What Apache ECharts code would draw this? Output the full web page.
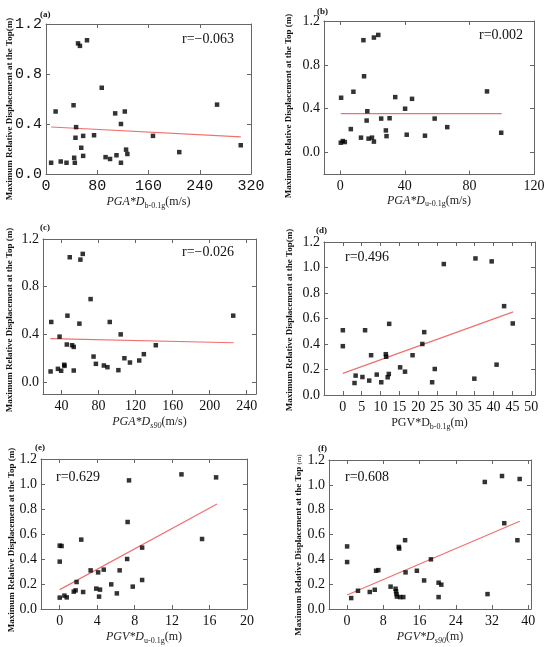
<!DOCTYPE html>
<html><head><meta charset="utf-8">
<script src="https://cdn.jsdelivr.net/npm/echarts@6/dist/echarts.min.js"></script>
<style>html,body{margin:0;padding:0;background:#fff}#c{width:550px;height:647px}</style>
</head><body><div id="c"></div>
<script>
// ---------- data ----------
const aX = [8,15,23,32,43,44,45,46,47,50,53,55,58,58,64,75,87,93,100,108,110,117,117,123,125,127,167,208,267,304];
const aY = [0.09,0.50,0.10,0.09,0.55,0.13,0.09,0.29,0.375,1.045,1.025,0.21,0.305,0.145,1.07,0.31,0.69,0.135,0.12,0.485,0.15,0.09,0.40,0.50,0.195,0.16,0.305,0.175,0.555,0.23];
const aFit = [[8,0.376],[304,0.297]];

const bX = [0.4,0.6,1.6,2.9,6.6,8.2,12.9,14.4,14.8,16.4,16.8,17.6,19.7,20.9,20.9,23.6,25.4,28.3,28.7,30.6,34.1,40.2,41.2,44.5,52.5,58.5,66.3,90.9,99.7];
const bY = [0.09,0.50,0.105,0.096,0.214,0.555,0.136,1.025,0.696,0.292,0.377,0.127,0.136,0.10,1.049,1.073,0.31,0.202,0.15,0.313,0.506,0.40,0.163,0.49,0.154,0.31,0.232,0.558,0.181];
const bFit = [[0.4,0.356],[100,0.356]];

const cX = [28.2,28.9,36.1,37.9,39.6,42.9,43.2,45.7,46.4,48.9,51.4,53.2,53.2,59.3,60.4,62.9,71.4,74.6,77.1,85.7,89.6,92.1,101.4,103.9,107.9,113.9,123.9,128.9,141.8,225.4];
const cY = [0.089,0.504,0.111,0.381,0.095,0.145,0.136,0.315,0.557,1.047,0.309,0.295,0.097,0.49,1.027,1.075,0.696,0.214,0.153,0.139,0.125,0.504,0.10,0.40,0.20,0.164,0.181,0.234,0.309,0.557];
const cFit = [[28,0.365],[226,0.33]];

const dX = [0,0,3.1,3.4,5.2,5.9,7.0,7.5,9.0,10.2,11.4,11.5,11.9,12.2,12.3,15.2,16.5,18.5,21.1,21.6,23.7,24.4,26.8,34.9,35.2,39.5,40.8,42.8,45.1];
const dY = [0.508,0.383,0.094,0.152,0.141,0.508,0.113,0.312,0.16,0.10,0.32,0.30,0.139,0.165,0.558,0.217,0.183,0.312,0.40,0.493,0.10,0.204,1.027,0.128,1.071,1.048,0.238,0.697,0.561];
const dFit = [[0,0.17],[45.2,0.652]];

const eX = [0,0,0,0.2,0.5,0.75,1.5,1.7,1.8,2.3,2.5,3.3,3.9,4.1,4.2,4.3,4.7,5.5,6.1,6.4,7.2,7.25,7.4,7.8,8.8,8.8,13.0,15.2,16.7];
const eY = [0.091,0.379,0.507,0.504,0.107,0.093,0.139,0.149,0.216,0.555,0.136,0.309,0.163,0.293,0.099,0.155,0.315,0.197,0.125,0.309,0.40,0.696,1.029,0.179,0.232,0.491,1.077,0.56,1.053];
const eFit = [[0,0.155],[16.8,0.84]];

const fX = [0,0,0.9,2.4,5.0,6.1,6.4,6.9,9.6,10.7,10.8,10.9,11.0,11.4,11.5,11.7,12.4,12.8,12.9,15.4,17.0,18.5,20.2,20.2,20.8,30.4,31.0,34.2,34.7,37.6,38.1];
const fY = [0.504,0.378,0.088,0.147,0.137,0.155,0.308,0.313,0.18,0.163,0.142,0.12,0.10,0.50,0.487,0.096,0.096,0.554,0.295,0.308,0.23,0.40,0.212,0.096,0.196,1.023,0.12,1.071,0.691,0.554,1.047];
const fFit = [[0,0.113],[38.1,0.707]];

// tick labels
const aXTicks = [0,80,160,240,320];
const bXTicks = [0,40,80,120];
const cXTicks = [40,80,120,160,200,240];
const dXTicks = [0,5,10,15,20,25,30,35,40,45,50];
const eXTicks = [0,4,8,12,16,20];
const fXTicks = [0,8,16,24,32,40];
const yTicks04 = [0,0.4,0.8,1.2];
const yTicks02 = [0,0.2,0.4,0.6,0.8,1.0,1.2];

const rTexts = ['r=\u22120.063','r=0.002','r=\u22120.026','r=0.496','r=0.629','r=0.608'];
const panelLetters = ['(a)','(b)','(c)','(d)','(e)','(f)'];

// ---------- layout ----------
const SERIF = '"Liberation Serif","Times New Roman",serif';
const panels = [
  {x:aX,y:aY,fit:aFit,xt:aXTicks,yt:yTicks04,xmin:0,xmax:320,ymin:0,ymax:1.2,
   grid:{left:46,top:24,width:205,height:150},
   name:'{i|PGA*D}{s|b-0.1g}{n|(m/s)}', nameGap:20, mono:true,
   yName:{x:10,y:109,text:'Maximum Relative Displacement at the Top(m)'},
   letter:{x:40,y:15}, r:{x:182,y:39}},
  {x:bX,y:bY,fit:bFit,xt:bXTicks,yt:yTicks04,xmin:-10,xmax:120,ymin:-0.2,ymax:1.2,
   grid:{left:324,top:21,width:210,height:153.5},
   name:'{i|PGA*D}{s|u-0.1g}{n|(m/s)}', nameGap:12,
   yName:{x:289,y:106,text:'Maximum Relative Displacement at the Top (m)'},
   letter:{x:317,y:12}, r:{x:479,y:35}},
  {x:cX,y:cY,fit:cFit,xt:cXTicks,yt:yTicks04,xmin:20,xmax:250,ymin:-0.1,ymax:1.2,
   grid:{left:43,top:239,width:213,height:155},
   name:'{i|PGA*D}{si|s90}{n|(m/s)}', nameGap:20,
   yName:{x:10,y:320,text:'Maximum Relative Displacement at the Top (m)'},
   letter:{x:40,y:228}, r:{x:182,y:252}},
  {x:dX,y:dY,fit:dFit,xt:dXTicks,yt:yTicks02,xmin:-5,xmax:51,ymin:0,ymax:1.2,
   grid:{left:324,top:242,width:211,height:153},
   name:'{n|PGV*D}{s|b-0.1g}{n|(m)}', nameGap:20,
   yName:{x:290,y:320,text:'Maximum Relative Displacement at the Top(m)'},
   letter:{x:316,y:231}, r:{x:345,y:257}},
  {x:eX,y:eY,fit:eFit,xt:eXTicks,yt:yTicks02,xmin:-2,xmax:20,ymin:0,ymax:1.2,
   grid:{left:41,top:459,width:206,height:150},
   name:'{i|PGV*D}{s|u-0.1g}{n|(m)}', nameGap:20,
   yName:{x:12,y:540,text:'Maximum Relative Displacement at the Top (m)'},
   letter:{x:35,y:448}, r:{x:56,y:477}},
  {x:fX,y:fY,fit:fFit,xt:fXTicks,yt:yTicks02,xmin:-4,xmax:40.6,ymin:0,ymax:1.2,
   grid:{left:329,top:460,width:202,height:149},
   name:'{i|PGV*D}{si|s90}{n|(m)}', nameGap:20,
   yName:{x:299,y:545,text:'Maximum Relative Displacement at the Top {m|(m)}'},
   letter:{x:318,y:449}, r:{x:345,y:477}}
];

const AX = '#666';
const rich = {
  i:{fontFamily:SERIF,fontStyle:'italic',fontSize:12,lineHeight:16,color:'#222'},
  n:{fontFamily:SERIF,fontSize:12,lineHeight:16,color:'#222'},
  s:{fontFamily:SERIF,fontSize:8,lineHeight:9,verticalAlign:'bottom',color:'#222'},
  si:{fontFamily:SERIF,fontStyle:'italic',fontSize:8,lineHeight:9,verticalAlign:'bottom',color:'#222'}
};

const grid=[], xAxis=[], yAxis=[], series=[], graphic=[];
panels.forEach((p,k)=>{
  grid.push(Object.assign({containLabel:false}, p.grid));
  const lblFont = p.mono ? {fontFamily:'"Liberation Mono",monospace',fontSize:15} : {fontFamily:SERIF,fontSize:14};
  xAxis.push({type:'value',gridIndex:k,min:p.xmin,max:p.xmax,position:'bottom',
    axisLine:{onZero:false,lineStyle:{color:AX,width:1}},
    axisTick:{inside:true,length:4,customValues:p.xt,lineStyle:{color:AX}},
    axisLabel:{customValues:p.xt,margin:5,color:'#111',...lblFont,formatter:v=>String(Math.round(v))},
    splitLine:{show:false},
    name:p.name,nameLocation:'middle',nameGap:p.nameGap,nameTextStyle:{rich:rich}});
  xAxis.push({type:'value',gridIndex:k,min:p.xmin,max:p.xmax,position:'top',
    axisLine:{onZero:false,lineStyle:{color:AX,width:1}},
    axisTick:{inside:true,length:4,customValues:p.xt,lineStyle:{color:AX}},
    axisLabel:{show:false},splitLine:{show:false}});
  yAxis.push({type:'value',gridIndex:k,min:p.ymin,max:p.ymax,position:'left',
    axisLine:{onZero:false,lineStyle:{color:AX,width:1}},
    axisTick:{inside:true,length:4,customValues:p.yt,lineStyle:{color:AX}},
    axisLabel:{customValues:p.yt,margin:4,color:'#111',...lblFont,formatter:v=>v.toFixed(1)},
    splitLine:{show:false}});
  yAxis.push({type:'value',gridIndex:k,min:p.ymin,max:p.ymax,position:'right',
    axisLine:{onZero:false,lineStyle:{color:AX,width:1}},
    axisTick:{inside:true,length:4,customValues:p.yt,lineStyle:{color:AX}},
    axisLabel:{show:false},splitLine:{show:false}});
  series.push({type:'scatter',xAxisIndex:2*k,yAxisIndex:2*k,symbol:'rect',symbolSize:4.5,
    itemStyle:{color:'#000'},data:p.x.map((v,j)=>[v,p.y[j]]),z:3});
  series.push({type:'line',xAxisIndex:2*k,yAxisIndex:2*k,symbol:'none',
    lineStyle:{color:'#f07070',width:1.2},data:p.fit,z:2});
  graphic.push({type:'text',x:p.yName.x,y:p.yName.y,rotation:Math.PI/2,
    style:{text:p.yName.text,align:'center',verticalAlign:'middle',
      font:'bold 9px '+SERIF,fill:'#111',
      rich:{m:{fontFamily:SERIF,fontWeight:'normal',fontSize:7,fill:'#111'}}}});
  graphic.push({type:'text',x:p.letter.x,y:p.letter.y,
    style:{text:panelLetters[k],align:'left',verticalAlign:'middle',font:'bold 9px '+SERIF,fill:'#111'}});
  graphic.push({type:'text',x:p.r.x,y:p.r.y,
    style:{text:rTexts[k],align:'left',verticalAlign:'middle',font:'14px '+SERIF,fill:'#111'}});
});

const chart = echarts.init(document.getElementById('c'),null,{renderer:'canvas'});
chart.setOption({animation:false,backgroundColor:'#fff',grid,xAxis,yAxis,series,graphic});
</script></body></html>
